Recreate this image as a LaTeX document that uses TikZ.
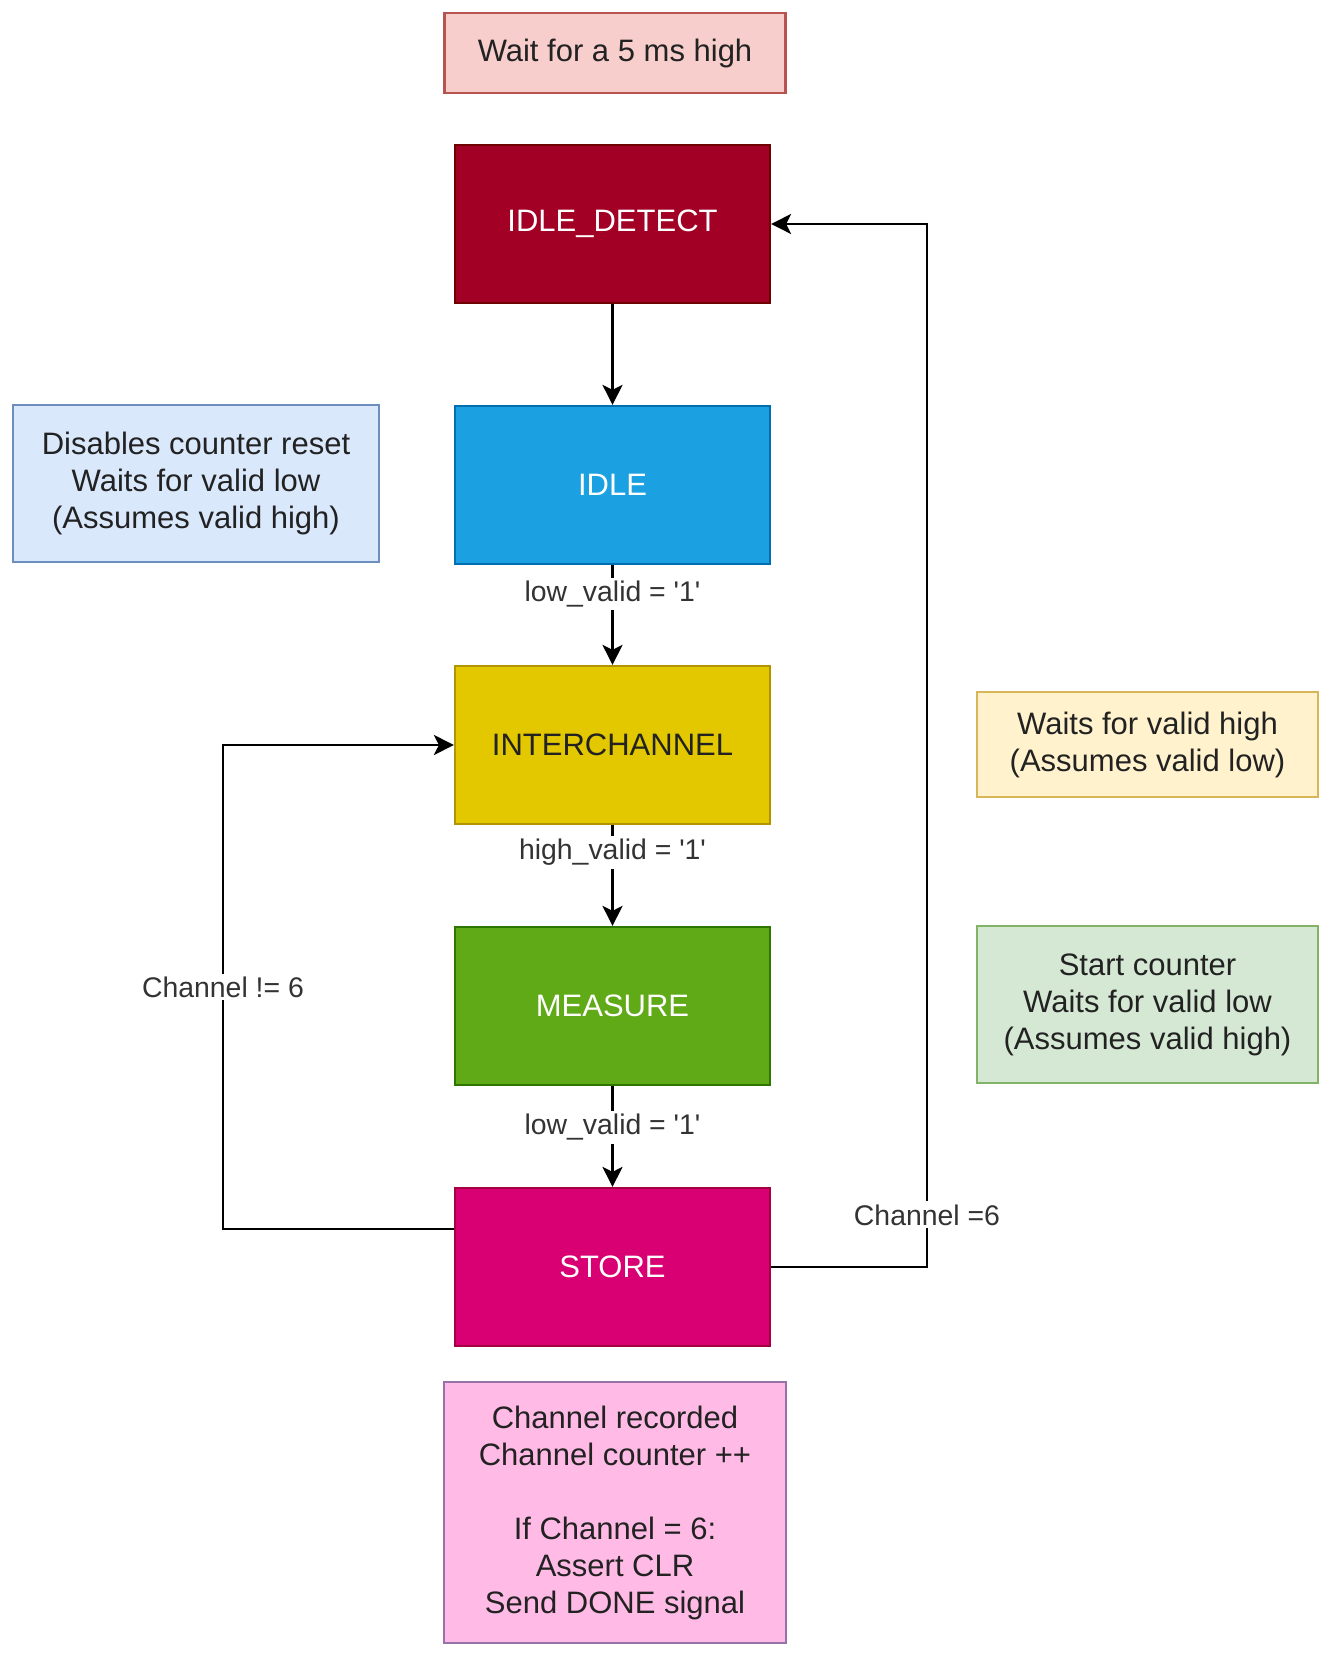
\documentclass[tikz,border=0pt]{standalone}
\usepackage{fontspec}
\setmainfont{Liberation Sans}
\usetikzlibrary{arrows.meta}
\definecolor{waitfill}{HTML}{F8CECC}
\definecolor{waitdraw}{HTML}{B85450}
\definecolor{detfill}{HTML}{A20025}
\definecolor{detdraw}{HTML}{6F0000}
\definecolor{idlefill}{HTML}{1BA1E2}
\definecolor{idledraw}{HTML}{006EAF}
\definecolor{intfill}{HTML}{E3C800}
\definecolor{intdraw}{HTML}{B09500}
\definecolor{measfill}{HTML}{60A917}
\definecolor{measdraw}{HTML}{2D7600}
\definecolor{storefill}{HTML}{D80073}
\definecolor{storedraw}{HTML}{A50040}
\definecolor{bluefill}{HTML}{DAE8FC}
\definecolor{bluedraw}{HTML}{6C8EBF}
\definecolor{yelfill}{HTML}{FFF2CC}
\definecolor{yeldraw}{HTML}{D6B656}
\definecolor{grnfill}{HTML}{D5E8D4}
\definecolor{grndraw}{HTML}{82B366}
\definecolor{pinkfill}{HTML}{FFBBE6}
\definecolor{pinkdraw}{HTML}{9673A6}
\definecolor{notetext}{HTML}{222222}
\definecolor{lbltext}{HTML}{333333}
\begin{document}
\begin{tikzpicture}[x=0.5pt,y=-0.5pt,
  base/.style={draw, line width=1.1pt, rectangle, inner sep=0pt, align=center,
    font=\fontsize{15.5}{18.5}\selectfont},
  state/.style={base, minimum width=157.5pt, minimum height=79pt},
  note/.style={base, text=notetext},
  conn/.style={line width=1.3pt, -{Stealth[length=10pt,width=10pt,inset=2.5pt]}},
  plain/.style={line width=1.3pt},
  lbl/.style={fill=white, inner sep=1.5pt, text=lbltext, font=\fontsize{14.2}{17}\selectfont}
]
\fill[white] (0,0) rectangle (1329,1657);
\useasboundingbox (0,0) rectangle (1329,1657);

% notes
\node[note, fill=waitfill, draw=waitdraw, minimum width=170.5pt, minimum height=40pt] (wait) at (615,53) {Wait for a 5 ms high};
\node[note, fill=bluefill, draw=bluedraw, minimum width=183pt, minimum height=78.5pt] (bnote) at (196,483.5) {Disables counter reset\\Waits for valid low\\(Assumes valid high)};
\node[note, fill=yelfill, draw=yeldraw, minimum width=170.5pt, minimum height=52.5pt] (ynote) at (1147.5,744.5) {Waits for valid high\\(Assumes valid low)};
\node[note, fill=grnfill, draw=grndraw, minimum width=170.5pt, minimum height=78.5pt] (gnote) at (1147.5,1004.5) {Start counter\\Waits for valid low\\(Assumes valid high)};
\node[note, fill=pinkfill, draw=pinkdraw, minimum width=171pt, minimum height=130.5pt] (pnote) at (615,1512.5) {Channel recorded\\Channel counter ++\\[18.5pt]If Channel = 6:\\Assert CLR\\Send DONE signal};

% states
\node[state, fill=detfill, draw=detdraw, text=white] (detect) at (612.5,224) {IDLE\_DETECT};
\node[state, fill=idlefill, draw=idledraw, text=white] (idle) at (612.5,485) {IDLE};
\node[state, fill=intfill, draw=intdraw, text=notetext] (inter) at (612.5,745) {INTERCHANNEL};
\node[state, fill=measfill, draw=measdraw, text=white] (measure) at (612.5,1006) {MEASURE};
\node[state, fill=storefill, draw=storedraw, text=white] (store) at (612.5,1267) {STORE};

% straight transitions
\draw[conn] (detect) -- (idle);
\draw[conn] (idle) -- node[lbl, pos=0.29] {low\_valid = \textquotesingle1\textquotesingle} (inter);
\draw[conn] (inter) -- node[lbl, pos=0.27] {high\_valid = \textquotesingle1\textquotesingle} (measure);
\draw[conn] (measure) -- node[lbl, pos=0.41] {low\_valid = \textquotesingle1\textquotesingle} (store);

% loop back to IDLE_DETECT
\coordinate (r1) at (927,1267);
\coordinate (r2) at (927,224);
\draw[conn] (store.east) -- (r1) -- node[lbl, pos=0.05] {Channel =6} (r2) -- (detect.east);

% loop back to INTERCHANNEL
\coordinate (l1) at (223,1229);
\coordinate (l2) at (223,745);
\draw[conn] (l1 -| store.west) -- (l1) -- node[lbl, pos=0.5] {Channel != 6} (l2) -- (inter.west);
\end{tikzpicture}
\end{document}
